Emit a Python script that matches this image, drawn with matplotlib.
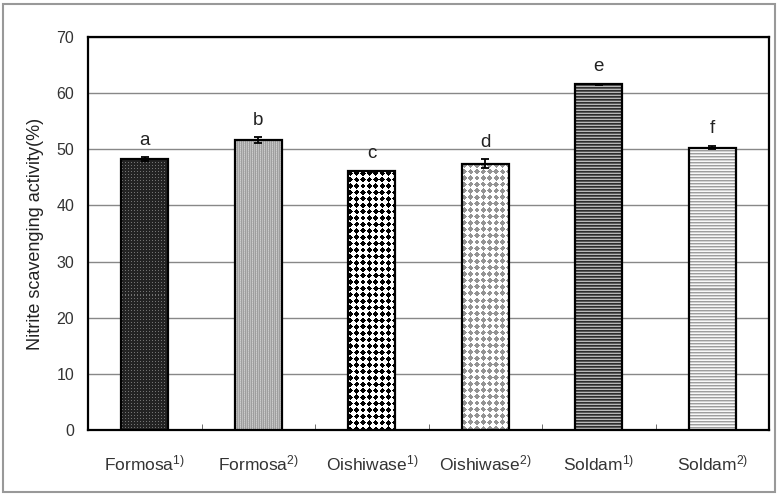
import matplotlib
matplotlib.use("Agg")
import matplotlib.pyplot as plt
from matplotlib.patches import Rectangle
import numpy as np

plt.rcParams['font.family'] = ['Liberation Sans', 'DejaVu Sans']
plt.rcParams['mathtext.fontset'] = 'custom'
plt.rcParams['mathtext.rm'] = 'Liberation Sans'
plt.rcParams['mathtext.it'] = 'Liberation Sans'

categories = ['Formosa$^{1)}$', 'Formosa$^{2)}$', 'Oishiwase$^{1)}$',
              'Oishiwase$^{2)}$', 'Soldam$^{1)}$', 'Soldam$^{2)}$']
values = [48.3, 51.6, 46.1, 47.4, 61.6, 50.3]
errors = [0.3, 0.5, 0.1, 0.8, 0.1, 0.3]
letters = ['a', 'b', 'c', 'd', 'e', 'f']
yticks = [0, 10, 20, 30, 40, 50, 60, 70]
textures = ['darkdots', 'vlines', 'blackdiamonds', 'graydiamonds', 'darklines', 'lightlines']


def texture(kind, h, w):
    ii, jj = np.mgrid[0:h, 0:w]
    if kind == 'darkdots':
        a = np.full((h, w), 0.14)
        m = ((ii % 3 == 1) & (jj % 3 == 1))
        a[m] = 0.45
        return a
    if kind == 'vlines':
        a = np.where(jj % 2 == 0, 0.62, 0.74)
        a = a + np.where((ii % 2 == 0) & (jj % 4 == 1), 0.06, 0.0)
        return a
    if kind in ('blackdiamonds', 'graydiamonds'):
        p = 6.4
        di = np.abs(((ii + 1.5) % p) - p / 2)
        dj = np.abs(((jj + 1.5) % p) - p / 2)
        m = (di + dj) < 2.9
        a = np.ones((h, w))
        a[m] = 0.0 if kind == 'blackdiamonds' else 0.58
        return a
    if kind == 'darklines':
        vals = np.array([0.18, 0.35, 0.72])
        return vals[ii % 3]
    if kind == 'lightlines':
        vals = np.array([0.62, 0.82, 0.97])
        return vals[ii % 3]
    return np.ones((h, w))


fig = plt.figure(figsize=(7.82, 4.96), dpi=100)
ax = fig.add_axes([88/782, 66/496, (769-88)/782, (430-37)/496])
ax.set_xlim(-0.5, len(categories) - 0.5)
ax.set_ylim(0, 70)

x = np.arange(len(categories))
w = 0.41
bars = ax.bar(x, values, w, facecolor='none', edgecolor='black', linewidth=1.6, zorder=4)
for i, b in enumerate(bars):
    bb = b.get_window_extent(renderer=None)
    hp = max(int(round(bb.height)), 1)
    wp = max(int(round(bb.width)), 1)
    arr = texture(textures[i], hp, wp)
    ax.imshow(arr, cmap='gray', vmin=0, vmax=1, interpolation='nearest', aspect='auto',
              extent=(b.get_x(), b.get_x() + b.get_width(), 0, b.get_height()),
              origin='upper', zorder=3, clip_path=b, clip_on=True)

ax.errorbar(x, values, yerr=errors, fmt='none', ecolor='black', elinewidth=1.3,
            capsize=3, capthick=1.3, zorder=5)
for i in range(len(categories)):
    ax.text(x[i], values[i] + errors[i] + 1.5, letters[i], ha='center', va='bottom',
            fontsize=13.5, color='#222222')

ax.set_xlim(-0.5, len(categories) - 0.5)
ax.set_ylim(0, 70)
ax.set_yticks(yticks)
ax.set_yticklabels([str(t) for t in yticks], fontsize=11.5, color='#333333')
ax.yaxis.grid(True, color='#888888', linewidth=1.0, zorder=0)
ax.set_axisbelow(True)
ax.tick_params(axis='y', length=0, pad=10)
ax.set_xticks(x)
ax.set_xticklabels(categories, fontsize=12.5, color='#333333')
ax.tick_params(axis='x', length=0, pad=17)
ax.set_xticks(np.arange(0.5, len(categories) - 0.5, 1), minor=True)
ax.tick_params(axis='x', which='minor', direction='in', length=4, color='#555555')
ax.set_ylabel('Nitrite scavenging activity(%)', fontsize=13, color='#222222', labelpad=9)
for s in ax.spines.values():
    s.set_linewidth(1.6)
    s.set_color('black')

fig.add_artist(Rectangle((3/782, 4/496), 772/782, 488/496, transform=fig.transFigure,
                         fill=False, edgecolor='#999999', linewidth=1.5))

fig.savefig('out.png', dpi=100)
